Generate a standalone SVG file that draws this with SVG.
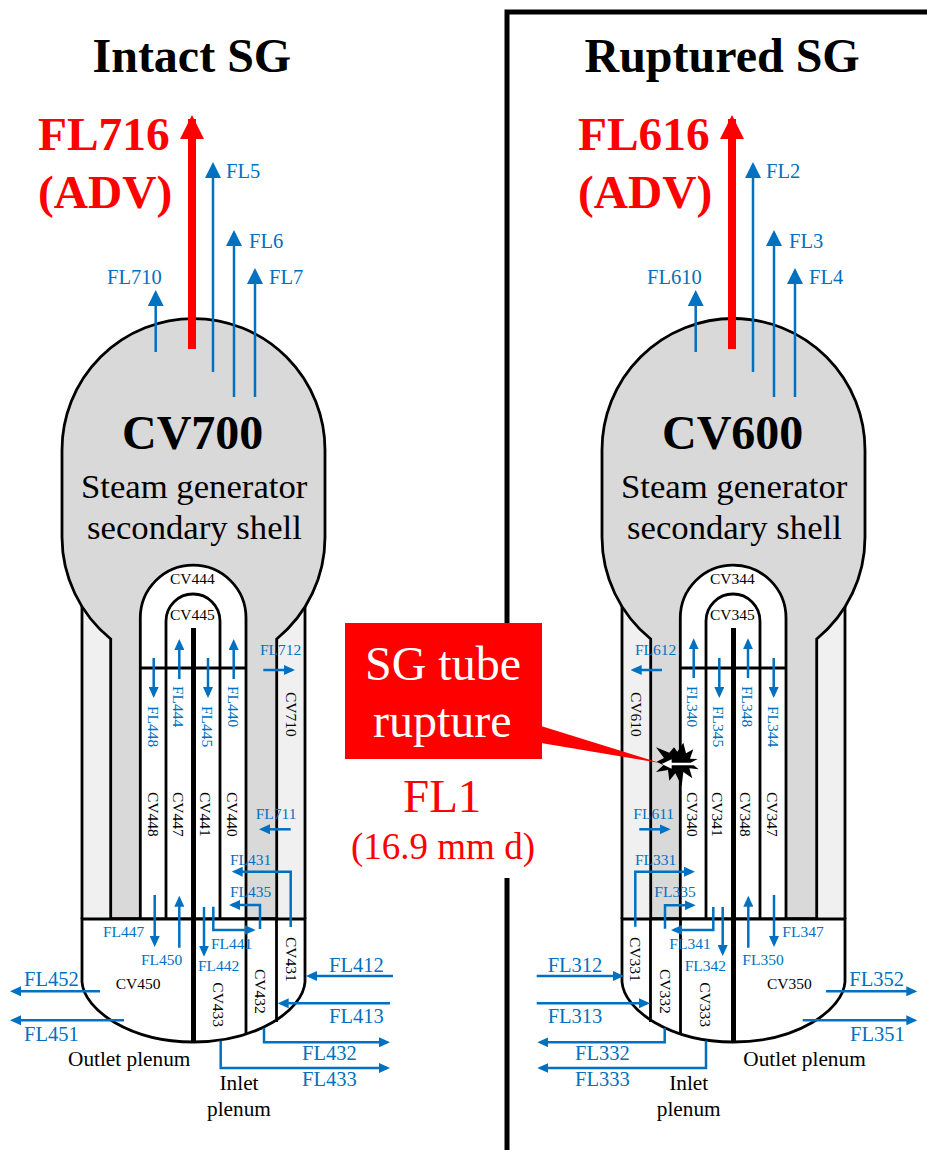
<svg xmlns="http://www.w3.org/2000/svg" width="927" height="1150" viewBox="0 0 927 1150">
<style>
text{font-family:"Liberation Serif","Times New Roman",serif}
.title{font-size:48px;font-weight:bold;fill:#000}
.red{font-size:47.4px;font-weight:bold;fill:#f00}
.cv{font-size:48px;font-weight:bold;fill:#000}
.sub{font-size:34.7px;fill:#000}
.s{font-size:15.5px;fill:#0070c0}
.m{font-size:20.5px;fill:#0070c0}
.c{font-size:15.5px;fill:#000}
.p{font-size:21.3px;fill:#000}
.wall{fill:none;stroke:#000;stroke-width:2.8}
.shell{fill:#d9d9d9;stroke:#000;stroke-width:2.8}
.annulus{fill:#f0f0f0;stroke:none}
.tube{fill:#fff;stroke:#000;stroke-width:2.8}
.bar{stroke:#000;stroke-width:5;fill:none}
.f{fill:none;stroke:#0070c0;stroke-width:2.5;marker-end:url(#a)}
.t{fill:none;stroke:#0070c0;stroke-width:2.5;marker-end:url(#b)}
.adv{fill:none;stroke:#f00;stroke-width:8;marker-end:url(#r)}
</style>
<defs>
<marker id="a" markerUnits="userSpaceOnUse" markerWidth="11" markerHeight="10" refX="8" refY="5" orient="auto"><path d="M0 0L11 5L0 10z" fill="#0070c0"/></marker>
<marker id="b" markerUnits="userSpaceOnUse" markerWidth="16" markerHeight="16" refX="13" refY="8" orient="auto"><path d="M0 0L16 8L0 16z" fill="#0070c0"/></marker>
<marker id="r" markerUnits="userSpaceOnUse" markerWidth="24" markerHeight="24" refX="20" refY="12" orient="auto"><path d="M0 0L24 12L0 24z" fill="#f00"/></marker>
</defs>

<g id="divider" stroke="#000" fill="none" stroke-width="5">
<path d="M507 1150V878M507 623V12H927"/>
</g>

<g id="titles">
<text class="title" x="92.5" y="71.5">Intact SG</text>
<text class="title" x="584.5" y="71.5">Ruptured SG</text>
</g>

<g id="sg-intact">
<rect class="annulus" x="82" y="600" width="223" height="319"/>
<path class="wall" d="M82 605V919M305 605V919"/>
<path class="shell" d="M110.7 919V639A131.5 131.5 0 0 1 62 537V450A131.5 131.5 0 0 1 325 450V537A131.5 131.5 0 0 1 276.7 639V919z"/>
<path class="wall" d="M110.7 919H276.7"/>
<path class="tube" d="M140.3 919V618A52.85 52.85 0 0 1 246 618V919z"/>
<path class="tube" d="M166 919V621A27 27 0 0 1 220 621V919z"/>
<path class="wall" d="M141 668H246"/>
<path class="tube" d="M82 919H305V982C303 1010 257 1042 193.5 1042C130 1042 84 1010 82 982z"/>
<path class="wall" d="M246 919V1034M276.5 919V1022"/>
<path class="bar" d="M193.5 628V1042"/>
</g>

<g id="sg-ruptured">
<rect class="annulus" x="622" y="600" width="223" height="319"/>
<path class="wall" d="M622 605V919M845 605V919"/>
<path class="shell" d="M650.7 919V639A131.5 131.5 0 0 1 602 537V450A131.5 131.5 0 0 1 865 450V537A131.5 131.5 0 0 1 816.7 639V919z"/>
<path class="wall" d="M650.7 919H816.7"/>
<path class="tube" d="M680.3 919V618A52.85 52.85 0 0 1 786 618V919z"/>
<path class="tube" d="M706 919V621A27 27 0 0 1 760 621V919z"/>
<path class="wall" d="M681 668H786"/>
<path class="tube" d="M622 919H845V982C843 1010 797 1042 733.5 1042C670 1042 624 1010 622 982z"/>
<path class="wall" d="M650.5 919V1022M680.5 919V1034"/>
<path class="bar" d="M733.5 628V1042"/>
</g>

<g id="connectors">
<path class="adv" d="M192 349V119"/>
<path class="t" d="M213 372V165"/>
<path class="t" d="M234 397V233"/>
<path class="t" d="M255 397V271"/>
<path class="t" d="M155.7 352V293"/>
<path class="f" d="M153.7 658V695"/>
<path class="f" d="M179.3 679V642"/>
<path class="f" d="M208 658V695"/>
<path class="f" d="M233.7 679V642"/>
<path class="f" d="M263.3 670H292"/>
<path class="f" d="M290.7 829.3H262"/>
<path class="f" d="M290.7 927V871.7H234.7"/>
<path class="f" d="M260 929V905H232"/>
<path class="f" d="M213.3 906.7V930H252.7"/>
<path class="f" d="M204 907V953.7"/>
<path class="f" d="M154.7 895V944"/>
<path class="f" d="M179.3 947.7V898.7"/>
<path class="f" d="M100 991.3H13"/>
<path class="f" d="M124 1020.3H13"/>
<path class="f" d="M393 976H309"/>
<path class="f" d="M390 1003.3H280.7"/>
<path class="f" d="M264 1028V1042.3H387"/>
<path class="f" d="M220.7 1040.7V1068H387"/>

<path class="adv" d="M732 349V119"/>
<path class="t" d="M753 372V165"/>
<path class="t" d="M774 397V233"/>
<path class="t" d="M795 397V271"/>
<path class="t" d="M695.7 352V293"/>
<path class="f" d="M693.7 678V641.3"/>
<path class="f" d="M719.3 658V695"/>
<path class="f" d="M748 678V641.3"/>
<path class="f" d="M773.7 658V695"/>
<path class="f" d="M662 670H633.7"/>
<path class="f" d="M639.3 829.3H667.7"/>
<path class="f" d="M635.3 926.7V871.7H692"/>
<path class="f" d="M665 928.7V905.3H692.7"/>
<path class="f" d="M713.3 907V930H674"/>
<path class="f" d="M722.7 907V953"/>
<path class="f" d="M748.3 947.7V898.7"/>
<path class="f" d="M774 895V944"/>
<path class="f" d="M826 991.3H914.3"/>
<path class="f" d="M802.7 1020.3H914.3"/>
<path class="f" d="M536.7 976H621"/>
<path class="f" d="M536.7 1003.3H647"/>
<path class="f" d="M664.7 1028V1042.3H540.3"/>
<path class="f" d="M706 1040.7V1068H540.3"/>
</g>

<g id="labels-intact">
<text class="red" x="38" y="150">FL716</text>
<text class="red" x="38" y="208">(ADV)</text>
<text class="m" x="226" y="178">FL5</text>
<text class="m" x="249" y="248">FL6</text>
<text class="m" x="269" y="284">FL7</text>
<text class="m" x="107" y="284">FL710</text>
<text class="cv" x="122" y="449">CV700</text>
<text class="sub" x="81" y="498">Steam generator</text>
<text class="sub" x="87" y="539">secondary shell</text>
<text class="c" x="170" y="584">CV444</text>
<text class="c" x="170" y="620">CV445</text>
<text class="s" transform="translate(147.5 706) rotate(90)">FL448</text>
<text class="s" transform="translate(173 686) rotate(90)">FL444</text>
<text class="s" transform="translate(202 706) rotate(90)">FL445</text>
<text class="s" transform="translate(228 686) rotate(90)">FL440</text>
<text class="c" transform="translate(147.5 792) rotate(90)">CV448</text>
<text class="c" transform="translate(172.5 792) rotate(90)">CV447</text>
<text class="c" transform="translate(200 792) rotate(90)">CV441</text>
<text class="c" transform="translate(226.7 792) rotate(90)">CV440</text>
<text class="c" transform="translate(285.7 692) rotate(90)">CV710</text>
<text class="s" x="260" y="655">FL712</text>
<text class="s" x="255.7" y="819">FL711</text>
<text class="s" x="230" y="865">FL431</text>
<text class="s" x="230" y="897">FL435</text>
<text class="s" x="211" y="949">FL441</text>
<text class="s" x="198" y="971">FL442</text>
<text class="s" x="103" y="937">FL447</text>
<text class="s" x="141" y="965">FL450</text>
<text class="c" x="115.7" y="989">CV450</text>
<text class="c" transform="translate(285.7 937) rotate(90)">CV431</text>
<text class="c" transform="translate(255 969) rotate(90)">CV432</text>
<text class="c" transform="translate(213.3 982.3) rotate(90)">CV433</text>
<text class="m" x="24" y="985.7">FL452</text>
<text class="m" x="24" y="1040.7">FL451</text>
<text class="m" x="329" y="971.7">FL412</text>
<text class="m" x="329" y="1022.7">FL413</text>
<text class="m" x="302" y="1059.7">FL432</text>
<text class="m" x="302" y="1085.7">FL433</text>
<text class="p" x="68" y="1066">Outlet plenum</text>
<text class="p" x="239" y="1090" text-anchor="middle">Inlet</text>
<text class="p" x="239" y="1116" text-anchor="middle">plenum</text>
</g>

<g id="labels-ruptured">
<text class="red" x="578" y="150">FL616</text>
<text class="red" x="578" y="208">(ADV)</text>
<text class="m" x="766" y="178">FL2</text>
<text class="m" x="789" y="248">FL3</text>
<text class="m" x="809" y="284">FL4</text>
<text class="m" x="647" y="284">FL610</text>
<text class="cv" x="662" y="449">CV600</text>
<text class="sub" x="621" y="498">Steam generator</text>
<text class="sub" x="627" y="539">secondary shell</text>
<text class="c" x="710" y="584">CV344</text>
<text class="c" x="710" y="620">CV345</text>
<text class="s" transform="translate(687.3 686) rotate(90)">FL340</text>
<text class="s" transform="translate(713.3 706) rotate(90)">FL345</text>
<text class="s" transform="translate(742.3 686) rotate(90)">FL348</text>
<text class="s" transform="translate(767.7 706) rotate(90)">FL344</text>
<text class="c" transform="translate(687.3 792) rotate(90)">CV340</text>
<text class="c" transform="translate(712.3 792) rotate(90)">CV341</text>
<text class="c" transform="translate(740 792) rotate(90)">CV348</text>
<text class="c" transform="translate(766.7 792) rotate(90)">CV347</text>
<text class="c" transform="translate(630.7 692) rotate(90)">CV610</text>
<text class="s" x="635" y="655">FL612</text>
<text class="s" x="633.3" y="819">FL611</text>
<text class="s" x="635" y="865">FL331</text>
<text class="s" x="654.3" y="897">FL335</text>
<text class="s" x="669.3" y="949">FL341</text>
<text class="s" x="684.7" y="971">FL342</text>
<text class="s" x="742.3" y="965">FL350</text>
<text class="s" x="782.3" y="937">FL347</text>
<text class="c" x="767" y="989">CV350</text>
<text class="c" transform="translate(630 937) rotate(90)">CV331</text>
<text class="c" transform="translate(660 969) rotate(90)">CV332</text>
<text class="c" transform="translate(700 982.3) rotate(90)">CV333</text>
<text class="m" x="849.3" y="985.7">FL352</text>
<text class="m" x="850" y="1040.7">FL351</text>
<text class="m" x="547.7" y="971.7">FL312</text>
<text class="m" x="547.7" y="1022.7">FL313</text>
<text class="m" x="575" y="1059.7">FL332</text>
<text class="m" x="575" y="1085.7">FL333</text>
<text class="p" x="743.3" y="1066">Outlet plenum</text>
<text class="p" x="688.7" y="1090" text-anchor="middle">Inlet</text>
<text class="p" x="688.7" y="1116" text-anchor="middle">plenum</text>
</g>

<g id="rupture-callout">
<rect x="345" y="623" width="197" height="136" fill="#f00"/>
<polygon points="541,726 541,743 660,763" fill="#f00"/>
<text x="365" y="680" font-size="48" fill="#fff">SG tube</text>
<text x="373" y="737" font-size="48" fill="#fff">rupture</text>
</g>
<g id="rupture-burst" transform="translate(600 560) scale(.3333)">
<polygon fill="#000" points="168,562 208,578 222,562 232,575 250,548 258,580 280,568 270,596 293,597 272,608 296,628 268,625 277,655 250,636 245,678 226,640 208,662 204,630 168,636 190,616 170,605 192,594"/>
<path d="M185 612L215 598V608H282V616H215V626z" fill="#fff"/>
</g>
<g id="fl1-label">
<text x="403" y="812" font-size="47" fill="#f00">FL1</text>
<text x="351" y="859" font-size="37" fill="#f00">(16.9 mm d)</text>
</g>
</svg>
